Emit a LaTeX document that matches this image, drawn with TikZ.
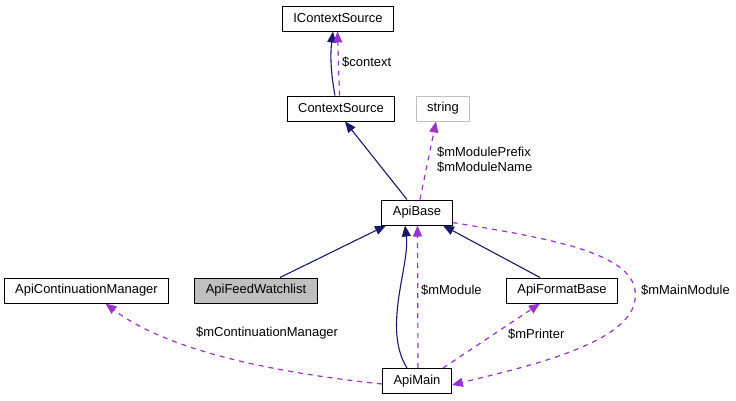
\documentclass[tikz,border=0pt]{standalone}
\usepackage{fontspec}
\setmainfont{Liberation Sans}
\usepackage{xcolor}
\usetikzlibrary{arrows.meta, positioning}
\definecolor{edgeblue}{HTML}{191970}
\definecolor{edgepurple}{HTML}{9A32CD}
\definecolor{boxgray}{HTML}{BFBFBF}
\tikzset{
    classbox/.style={rectangle, draw=black, fill=white, line width=1bp, inner xsep=11bp, inner ysep=0pt, minimum height=25bp, font=\fontsize{13}{15}\selectfont},
    inherit/.style={-{Triangle[length=11bp, width=9bp]}, draw=edgeblue, line width=1.1bp},
    usage/.style={-{Triangle[length=11bp, width=9bp]}, draw=edgepurple, line width=1.2bp, dash pattern=on 5bp off 5bp},
    elabel/.style={anchor=west, inner sep=0pt, font=\fontsize{13}{15}\selectfont}
}

\begin{document}
\begin{tikzpicture}[x=1bp, y=-1bp]
            \useasboundingbox (0,0) rectangle (736,400);
            \node (icontext) [classbox] at (338,18.5) {IContextSource};
            \node (context) [classbox] at (341,108.5) {ContextSource};
            \node (string) [classbox, draw=boxgray] at (443,108.5) {string};
            \node (apibase) [classbox] at (417,212.5) {ApiBase};
            \node (contmgr) [classbox] at (86.5,290.5) {ApiContinuationManager};
            \node (watchlist) [classbox, fill=boxgray] at (256,290.5) {ApiFeedWatchlist};
            \node (formatbase) [classbox] at (562,290.5) {ApiFormatBase};
            \node (apimain) [classbox] at (417,381) {ApiMain};

            % inheritance
            \draw[inherit] ([xshift=-6bp]context.north) .. controls +(-4,-22) and +(-3,25) .. ([xshift=-5bp]icontext.south);
            \draw[inherit] ([xshift=-10bp]apibase.north) -- ([xshift=4bp]context.south);
            \draw[inherit] ([xshift=24bp]watchlist.north) -- ([xshift=-31bp]apibase.south);
            \draw[inherit] ([xshift=-10bp]apimain.north) .. controls +(-25,-40) and +(5,40) .. ([xshift=-12bp]apibase.south);
            \draw[inherit] ([xshift=-22bp]formatbase.north) -- ([xshift=26bp]apibase.south);

            % members
            \draw[usage] ([xshift=-1.5bp]context.north) -- ([xshift=-0.5bp]icontext.south);
            \node (lcontext) [elabel] at (342,62) {\$context};
            \draw[usage] ([xshift=3bp]apibase.north) -- ([xshift=-7bp]string.south);
            \node (lprefix) [elabel, align=left] at (437,160) {\$mModulePrefix\\\$mModuleName};
            \draw[usage] ([xshift=1bp]apimain.north) -- ([xshift=0.5bp]apibase.south);
            \node (lmodule) [elabel] at (421,290) {\$mModule};
            \draw[usage] ([xshift=26bp]apimain.north) -- ([xshift=-22bp]formatbase.south);
            \node (lprinter) [elabel] at (508,334) {\$mPrinter};
            \draw[usage] ([yshift=-10bp]apibase.east) .. controls (560,240) and (642,255) .. (635,300) .. controls (629,345) and (520,368) .. ([yshift=-4bp]apimain.east);
            \node (lmain) [elabel] at (641,290) {\$mMainModule};
            \draw[usage] ([yshift=-3bp]apimain.west) .. controls (250,370) and (160,345) .. ([xshift=19bp]contmgr.south);
            \node (lcontmgr) [elabel] at (196,333) {\$mContinuationManager};
        \end{tikzpicture}
\end{document}
